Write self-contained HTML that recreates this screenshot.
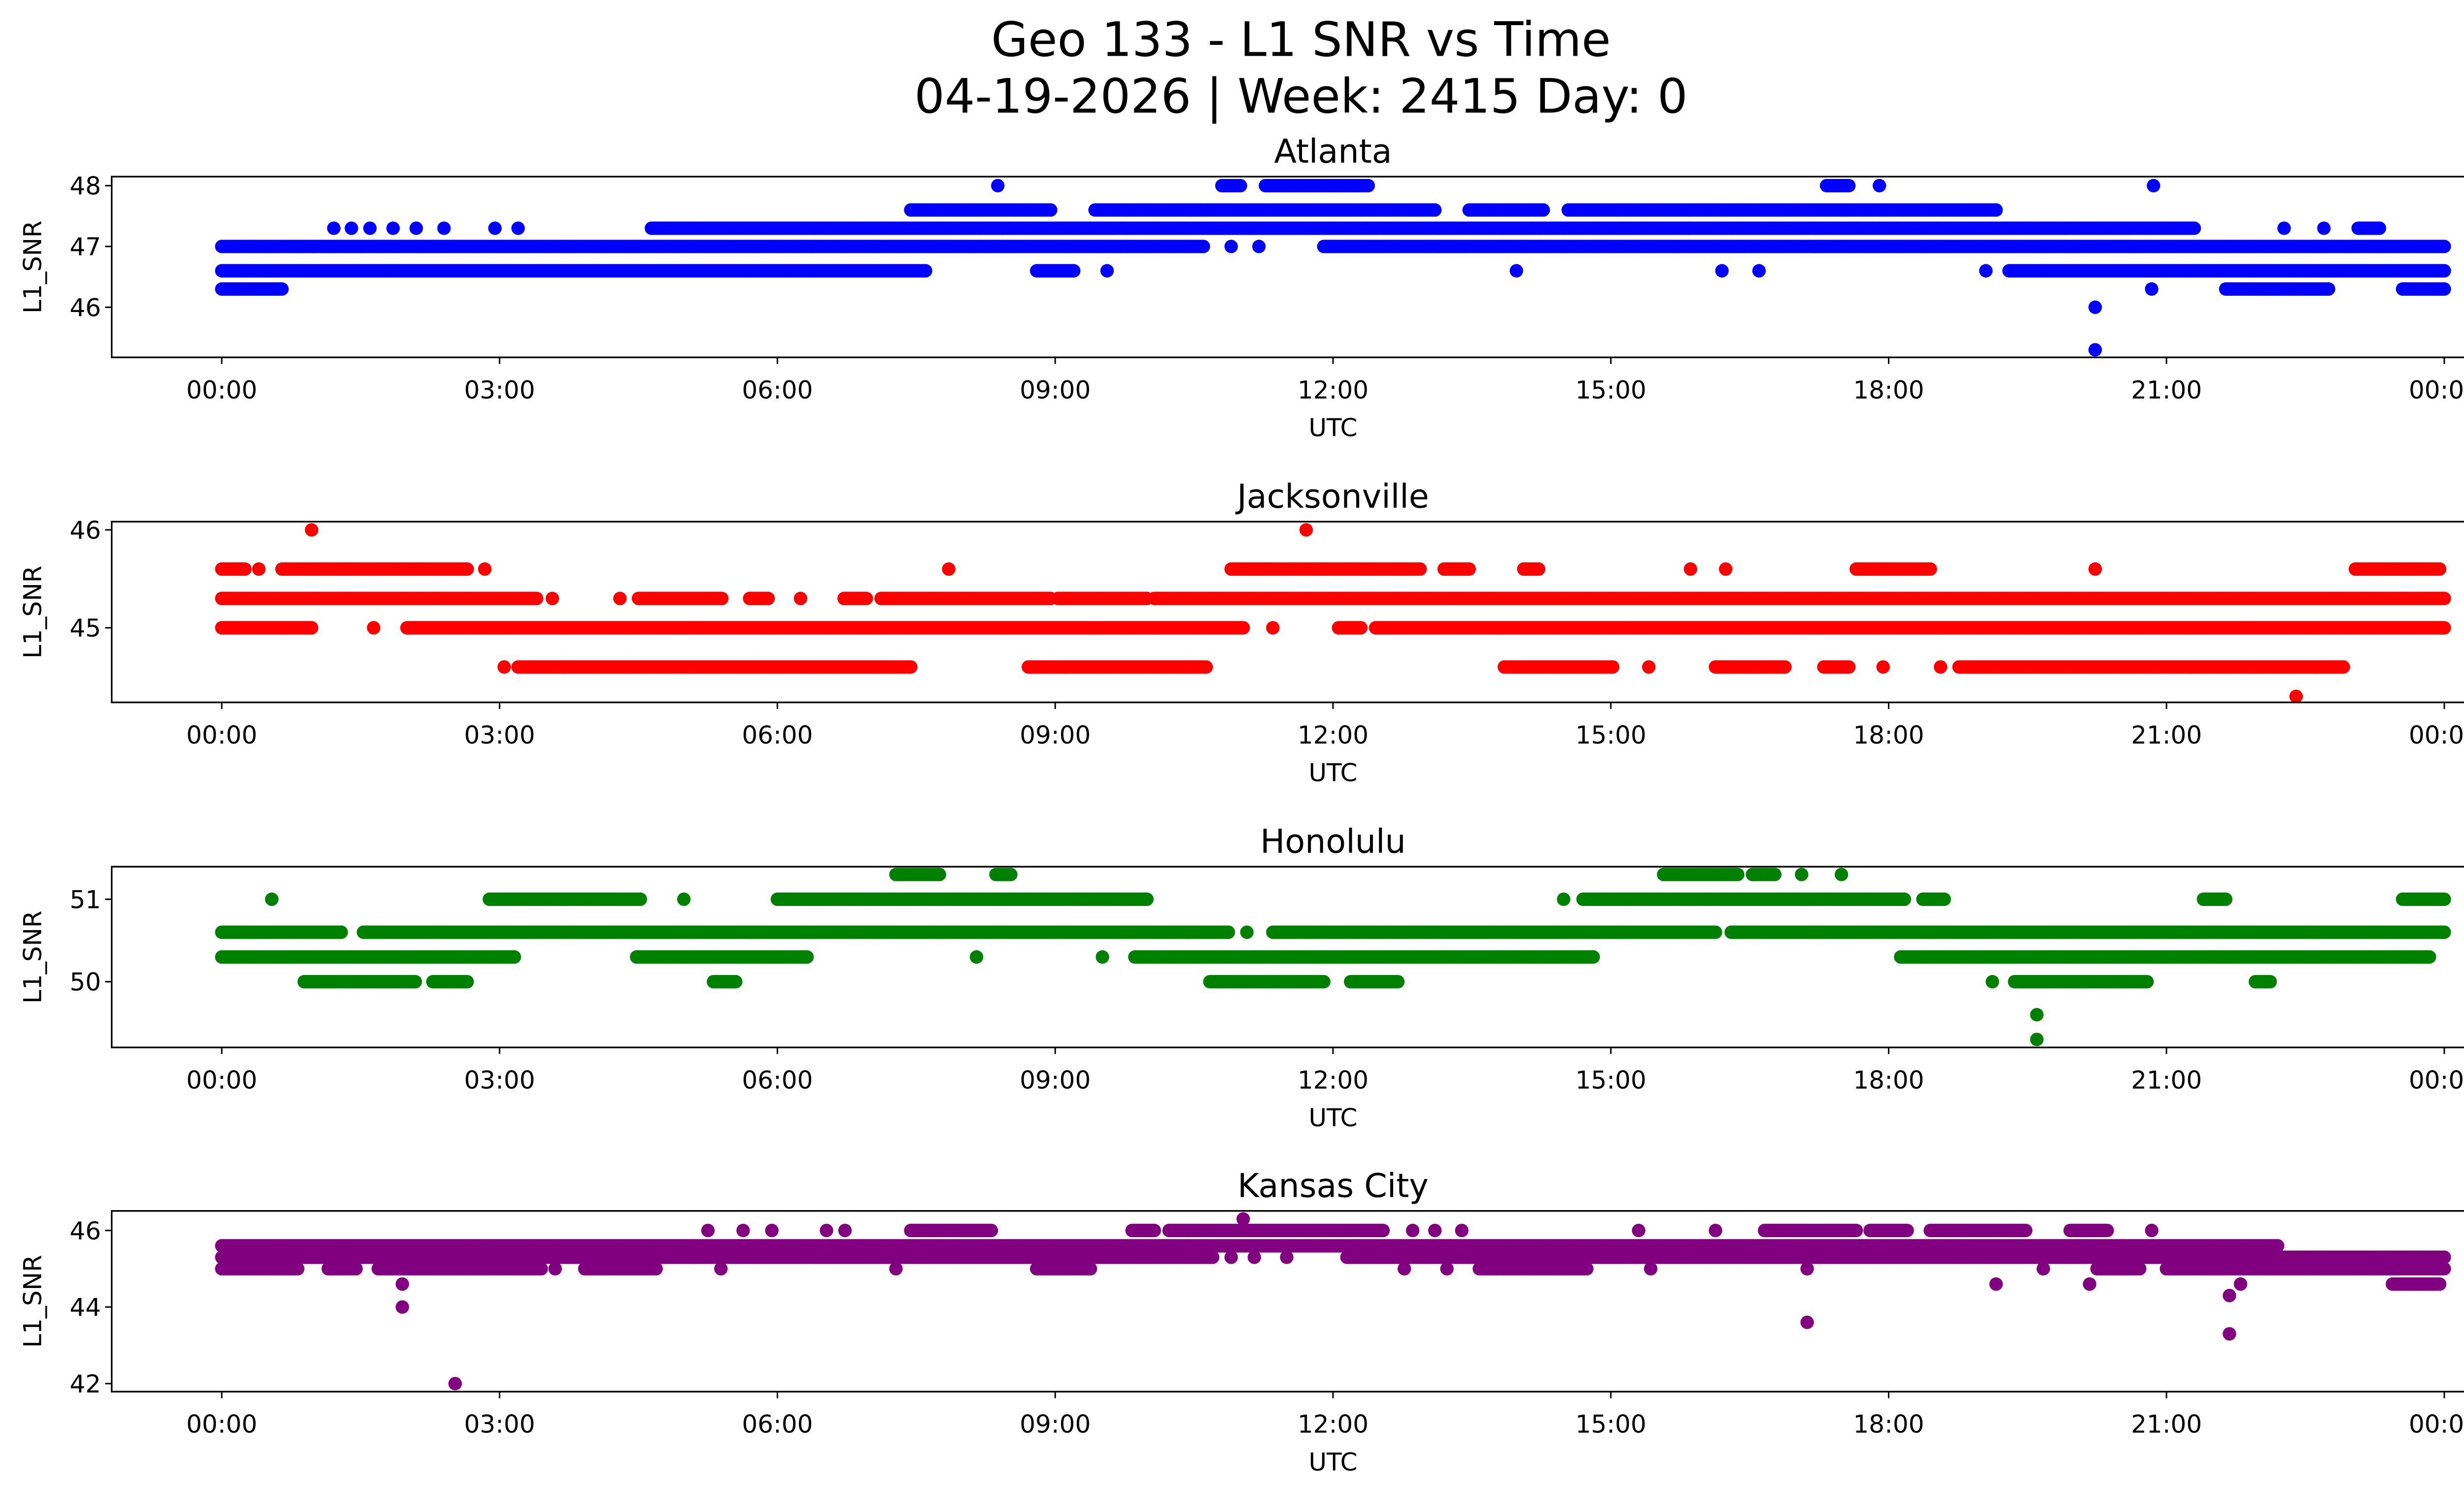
<!DOCTYPE html>
<html><head><meta charset="utf-8"><style>
html,body{margin:0;padding:0;background:#fff;overflow:hidden;}
svg{display:block;font-family:"DejaVu Sans","Liberation Sans",sans-serif;}
</style></head><body>
<svg id="fig" width="5225" height="3033" viewBox="0 0 1567.5 909.9" xmlns="http://www.w3.org/2000/svg">
<rect x="0" y="0" width="1567.5" height="909.9" fill="#fff"/>
<text x="792" y="34" font-size="29" text-anchor="middle">Geo 133 - L1 SNR vs Time</text>
<text x="792" y="68.5" font-size="29" text-anchor="middle">04-19-2026 | Week: 2415 Day: 0</text>
<g id="plots"></g>
</svg>
<script>
// ---- data (hours UTC, SNR dB): runs of constant SNR ----
const xTickHours = [0,3,6,9,12,15,18,21,24];
const xTickLabels = ["00:00","03:00","06:00","09:00","12:00","15:00","18:00","21:00","00:00"];

const atlVals = [48,48,48,48,48,48, 47.6,47.6,47.6,47.6, 47.3,47.3,47.3,47.3,47.3,47.3,47.3,47.3,47.3,47.3,47.3,47.3, 47,47,47,47, 46.6,46.6,46.6,46.6,46.6,46.6,46.6,46.6, 46.3,46.3,46.3,46.3, 46,45.3];
const atlStart = [8.38,10.8,11.27,17.33,17.9,20.86, 7.44,9.43,13.47,14.54, 1.21,1.4,1.6,1.85,2.1,2.4,2.95,3.2,4.64,22.27,22.7,23.07, 0,10.9,11.2,11.9, 0,8.8,9.56,13.98,16.2,16.6,19.05,19.3, 0,20.84,21.64,23.55, 20.23,20.23];
const atlEnd = [8.38,11.0,12.38,17.57,17.9,20.86, 8.95,13.1,14.27,19.16, 1.21,1.4,1.6,1.85,2.1,2.4,2.95,3.2,21.3,22.27,22.7,23.3, 10.6,10.9,11.2,24, 7.6,9.2,9.56,13.98,16.2,16.6,19.05,24, 0.65,20.84,22.75,24, 20.23,20.23];

const jaxVals = [46,46, 45.6,45.6,45.6,45.6,45.6,45.6,45.6,45.6,45.6,45.6,45.6,45.6,45.6, 45.3,45.3,45.3,45.3,45.3,45.3,45.3,45.3,45.3,45.3, 45,45,45,45,45,45, 44.6,44.6,44.6,44.6,44.6,44.6,44.6,44.6,44.6,44.6, 44.3];
const jaxStart = [0.97,11.71, 0,0.4,0.65,2.84,7.85,10.9,13.2,14.06,15.86,16.24,17.65,20.23,23.04, 0,3.57,4.3,4.5,5.7,6.25,6.72,7.12,9.03,10.07, 0,1.64,2.0,11.35,12.06,12.46, 3.05,3.2,8.71,13.85,15.41,16.13,17.3,17.94,18.56,18.76, 22.4];
const jaxEnd = [0.97,11.71, 0.25,0.4,2.65,2.84,7.85,12.94,13.47,14.22,15.86,16.24,18.45,20.23,23.95, 3.4,3.57,4.3,5.4,5.9,6.25,6.96,8.95,9.99,24, 0.97,1.64,11.03,11.35,12.3,24, 3.05,7.44,10.63,15.02,15.41,16.88,17.57,17.94,18.56,22.91, 22.4];

const honVals = [51.3,51.3,51.3,51.3,51.3,51.3, 51,51,51,51,51,51,51,51,51, 50.6,50.6,50.6,50.6,50.6, 50.3,50.3,50.3,50.3,50.3,50.3, 50,50,50,50,50,50,50,50, 49.6,49.3];
const honStart = [7.28,8.36,15.57,16.53,17.06,17.49, 0.54,2.89,4.99,6.0,14.49,14.7,18.37,21.4,23.55, 0,1.53,11.07,11.35,16.3, 0,4.48,8.15,9.51,9.86,18.13, 0.89,2.28,5.31,10.67,12.19,19.12,19.36,21.96, 19.6,19.6];
const honEnd = [7.75,8.52,16.37,16.77,17.06,17.49, 0.54,4.52,4.99,9.99,14.49,18.17,18.6,21.64,24, 1.29,10.87,11.07,16.13,24, 3.16,6.32,8.15,9.51,14.81,23.84, 2.09,2.65,5.55,11.9,12.7,19.12,20.79,22.12, 19.6,19.6];

const kcVals = [46.3, 46,46,46,46,46,46,46,46,46,46,46,46,46,46,46,46,46,46, 45.6, 45.3,45.3,45.3,45.3,45.3, 45,45,45,45,45,45,45,45,45,45,45,45,45,45,45,45, 44.6,44.6,44.6,44.6,44.6, 44.3,44,43.6,43.3,42];
const kcStart = [11.03, 5.25,5.63,5.94,6.53,6.73,7.44,9.83,10.23,12.86,13.1,13.39,15.3,16.13,16.66,17.8,18.45,19.96,20.84, 0, 0,10.9,11.15,11.5,12.15, 0,1.15,1.69,3.6,3.92,5.39,7.28,8.8,12.77,13.23,13.58,15.43,17.12,19.67,20.25,21, 1.95,19.16,20.17,21.8,23.44, 21.68,1.95,17.12,21.68,2.52];
const kcEnd = [11.03, 5.25,5.63,5.94,6.53,6.73,8.31,10.07,12.54,12.86,13.1,13.39,15.3,16.13,17.65,18.2,19.48,20.36,20.84, 22.2, 10.7,10.9,11.15,11.5,24, 0.82,1.45,3.45,3.6,4.69,5.39,7.28,9.38,12.77,13.23,14.74,15.43,17.12,19.67,20.71,24, 1.95,19.16,20.17,21.8,23.95, 21.68,1.95,17.12,21.68,2.52];

const yTicksAtl = [46,47,48];
const yTicksJax = [45,46];
const yTicksHon = [50,51];
const yTicksKc = [42,44,46];

// ---- layout ----
const NS = "http://www.w3.org/2000/svg";
const AX_L = 68, AX_R = 1555, AX_H = 110;
const TICK_FS = 15;
function xScale(h){ return 135 + h * 56.375; }

const panels = [
  {title:"Atlanta", slug:"atlanta", color:"#0000ff", top:107.5, v0:48, y0:113, k:37, vals:atlVals, st:atlStart, en:atlEnd, yt:yTicksAtl},
  {title:"Jacksonville", slug:"jacksonville", color:"#ff0000", top:317.5, v0:46, y0:322.5, k:59.6, vals:jaxVals, st:jaxStart, en:jaxEnd, yt:yTicksJax},
  {title:"Honolulu", slug:"honolulu", color:"#008000", top:527.5, v0:51, y0:547.3, k:50.2, vals:honVals, st:honStart, en:honEnd, yt:yTicksHon},
  {title:"Kansas City", slug:"kansas-city", color:"#800080", top:737, v0:46, y0:748.9, k:23.3, vals:kcVals, st:kcStart, en:kcEnd, yt:yTicksKc}
];

function mk(tag, attrs, parent){
  const e = document.createElementNS(NS, tag);
  for (const a in attrs) e.setAttribute(a, attrs[a]);
  parent.appendChild(e);
  return e;
}

const root = document.getElementById("plots");
panels.forEach(p => {
  const g = mk("g", {}, root);
  
  
  const yScale = v => p.y0 + (p.v0 - v) * p.k;

  const t = mk("text", {x:(AX_L+AX_R)/2, y:p.top-8.5, "font-size":"20", "text-anchor":"middle"}, g);
  t.textContent = p.title;
  
  

  const pts = mk("g", {fill:p.color}, g);
  
  
  for (let i = 0; i < p.vals.length; i++) {
    const y = yScale(p.vals[i]);
    const a = p.st[i], b = p.en[i];
    const n = Math.max(1, Math.round((b - a) / 0.02));
    for (let j = 0; j <= n; j++) {
      const h = (b === a) ? a : a + (b - a) * j / n;
      const c = mk("circle", {cx:xScale(h).toFixed(2), cy:y.toFixed(2), r:"4.1"}, pts);
      
      
      if (b === a) break;
    }
  }

  const fr = mk("rect", {x:AX_L, y:p.top, width:AX_R-AX_L, height:AX_H, fill:"none", stroke:"#000", "stroke-width":"1"}, g);
  
  

  const bottom = p.top + AX_H;
  xTickHours.forEach((h, i) => {
    const x = xScale(h);
    const tk = mk("line", {x1:x, y1:bottom, x2:x, y2:bottom+4, stroke:"#000", "stroke-width":"0.9"}, g);
    
    
    const tl = mk("text", {x:x, y:bottom+25, "font-size":TICK_FS, "text-anchor":"middle"}, g);
    tl.textContent = xTickLabels[i];
    
    
  });
  const xl = mk("text", {x:(AX_L+AX_R)/2, y:bottom+48, "font-size":TICK_FS, "text-anchor":"middle"}, g);
  xl.textContent = "UTC";
  
  

  p.yt.forEach(v => {
    const y = yScale(v);
    const tk = mk("line", {x1:AX_L-4, y1:y, x2:AX_L, y2:y, stroke:"#000", "stroke-width":"0.9"}, g);
    
    
    const tl = mk("text", {x:AX_L-6.5, y:y+5.4, "font-size":TICK_FS, "text-anchor":"end"}, g);
    tl.textContent = String(v);
    
    
  });
  const cy = p.top + AX_H/2;
  const yl = mk("text", {x:0, y:0, "font-size":TICK_FS, "text-anchor":"middle", transform:"translate(25," + cy + ") rotate(-90)"}, g);
  yl.textContent = "L1_SNR";
  
  
});
</script>
</body></html>
